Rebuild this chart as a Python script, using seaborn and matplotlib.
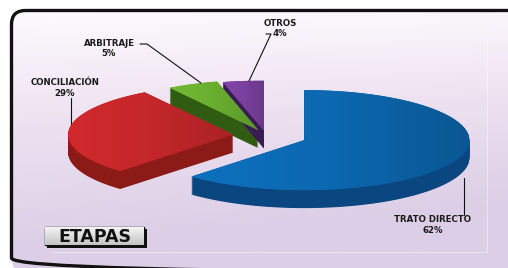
"""ETAPAS: exploded 3D-style pie chart with leader labels."""

import colorsys

import matplotlib.colors as mcolors
import matplotlib.pyplot as plt
import numpy as np
import seaborn as sns
from matplotlib.colors import LinearSegmentedColormap
from matplotlib.patches import FancyBboxPatch, Polygon

# ── Data ─────────────────────────────────────────────────────────────────────
LABELS = ["TRATO DIRECTO", "CONCILIACIÓN", "ARBITRAJE", "OTROS"]
VALUES = [62, 29, 5, 4]
EXPLODE = [0.25, 0.20, 0.12, 0.10]

TOP_COLORS = ["#0c68b0", "#c4272a", "#6aae30", "#7a419f"]
SIDE_COLORS = ["#0a467f", "#8c1a16", "#2f5c12", "#3a1c52"]

# ── Pie geometry (pixel space, y grows downwards) ────────────────────────────
CX, CY = 266, 135.5
RX, RY = 165, 50
DEPTH = 18
START = 90

sns.set_theme(style="white")
plt.rcParams["font.family"] = ["DejaVu Sans"]


def shift_light(color, dl):
    h, l, s = colorsys.rgb_to_hls(*mcolors.to_rgb(color))
    return colorsys.hls_to_rgb(h, min(max(l + dl, 0), 1), s)


fig = plt.figure(figsize=(5.08, 2.68), dpi=100)
ax = fig.add_axes([0, 0, 1, 1])
ax.set_xlim(0, 508)
ax.set_ylim(268, 0)
ax.axis("off")

# ── Panel with rounded border and lavender gradient ──────────────────────────
panel = FancyBboxPatch((11.5, 10.5), 540, 261.5, boxstyle="round,pad=0,rounding_size=14",
                       facecolor="none", edgecolor="#111111", lw=2.4, zorder=5)
ax.add_patch(panel)
yy, xx = np.mgrid[0:1:200j, 0:1:200j]
grad = np.clip(1.05 * yy + 0.2 * xx * (0.3 + yy), 0, 1)
bg_cmap = LinearSegmentedColormap.from_list("bg", ["#fdfafd", "#ece0f0", "#dccee6"])
bg = ax.imshow(grad, cmap=bg_cmap, extent=(11, 552, 268, 10), aspect="auto", zorder=0)
bg.set_clip_path(panel)
ax.plot([52, 487, 487], [252, 252, 40], color="white", lw=0.8, alpha=0.45, zorder=1)


def wedge_points(cx, cy, a0, a1, n=120):
    ang = np.radians(np.linspace(a0, a1, n))
    xs = np.concatenate([[cx], cx + RX * np.cos(ang)])
    ys = np.concatenate([[cy], cy - RY * np.sin(ang)])
    return np.column_stack([xs, ys])


fracs = np.array(VALUES, dtype=float) / sum(VALUES)
edges = START - np.concatenate([[0], np.cumsum(fracs) * 360])
wedges = []
for i, f in enumerate(fracs):
    a0, a1 = edges[i], edges[i + 1]
    mid = np.radians((a0 + a1) / 2)
    cx = CX + EXPLODE[i] * RX * np.cos(mid)
    cy = CY - EXPLODE[i] * RY * np.sin(mid)
    wedges.append((i, cx, cy, a0, a1))

# back slices first
for i, cx, cy, a0, a1 in sorted(wedges, key=lambda w: w[2]):
    pts = wedge_points(cx, cy, a1, a0)
    x0, x1 = pts[:, 0].min(), pts[:, 0].max()
    y0, y1 = pts[:, 1].min(), pts[:, 1].max()
    for k in np.linspace(DEPTH, 0.5, 30):
        side = Polygon(pts + [0, k], closed=True, facecolor=SIDE_COLORS[i],
                       edgecolor="none", zorder=2)
        ax.add_patch(side)
    top = Polygon(pts, closed=True, facecolor=TOP_COLORS[i], edgecolor="none", zorder=3)
    ax.add_patch(top)
    # soft sheen on the top face, darker towards the right
    shade = LinearSegmentedColormap.from_list(
        f"s{i}", [shift_light(TOP_COLORS[i], 0.03), TOP_COLORS[i],
                  shift_light(TOP_COLORS[i], -0.06)])
    im = ax.imshow(np.tile(np.linspace(0, 1, 100), (20, 1)), cmap=shade,
                   extent=(x0, x1, y1, y0), aspect="auto", zorder=3.5)
    im.set_clip_path(top)

# ── Labels with leader lines ─────────────────────────────────────────────────
label_pos = [(433, 225), (65, 88), (109, 48.5), (280, 28.5)]
leaders = [
    [(464, 178), (464, 215)],
    [(71, 98), (71, 124)],
    [(140, 44), (147, 44), (201, 83)],
    [(266, 34), (271, 34), (249, 81)],
]
for i, (lx, ly) in enumerate(label_pos):
    ax.text(lx, ly, f"{LABELS[i]}\n{VALUES[i]}%", ha="center", va="center",
            fontsize=6.2, fontweight="bold", color="#1a1a1a", linespacing=1.15, zorder=6)
    xs, ys = zip(*leaders[i])
    ax.plot(xs, ys, color="#111111", lw=0.8, zorder=6)

# ── ETAPAS tag ───────────────────────────────────────────────────────────────
ax.add_patch(FancyBboxPatch((47, 229), 100, 19, boxstyle="square,pad=0",
                            facecolor="#111111", edgecolor="none", zorder=6))
tag = FancyBboxPatch((45, 227), 99, 18, boxstyle="square,pad=0",
                     facecolor="#dcdcdc", edgecolor="#111111", lw=1.0, zorder=7)
ax.add_patch(tag)
tg = ax.imshow(np.linspace(0, 1, 50)[:, None], cmap=LinearSegmentedColormap.from_list(
    "tag", ["#f4f4f4", "#c4c4c4"]), extent=(45, 144, 245, 227), aspect="auto", zorder=7.2)
tg.set_clip_path(tag)
ax.text(94.5, 236.5, "ETAPAS", ha="center", va="center", fontsize=12.5,
        fontweight="bold", color="#111111", zorder=8)

fig.savefig("out.png", dpi=100)
